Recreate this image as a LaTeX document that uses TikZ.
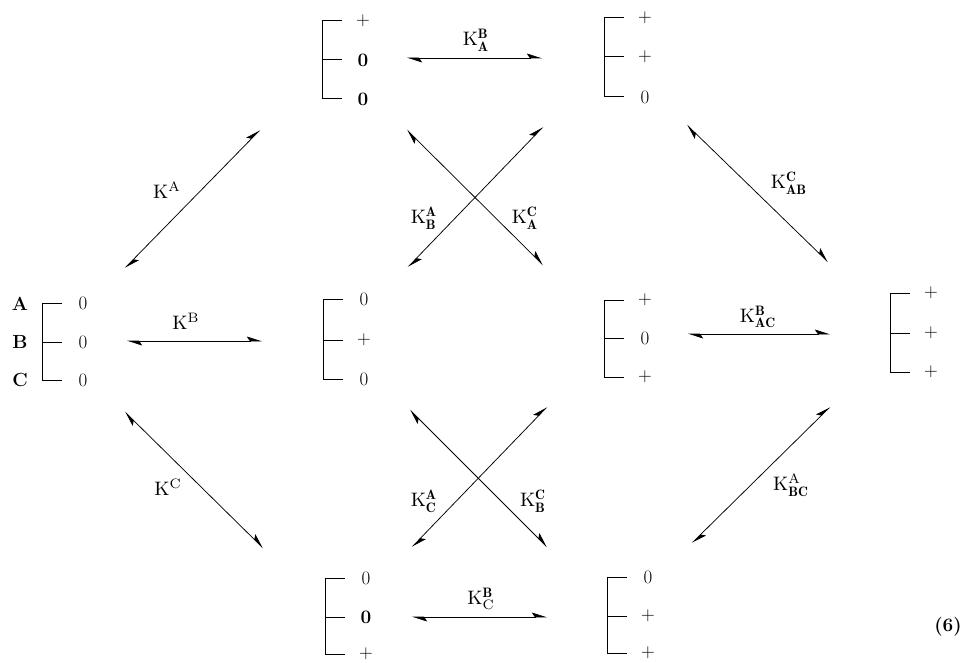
\documentclass[tikz,border=0pt]{standalone}
\usepackage{fontspec}
\usepackage{graphicx}
\usetikzlibrary{arrows.meta}
\newcommand\bracketset[8]{% name, x, ytop, ymid, ybot, v1, v2, v3
  \draw[brk] (#2+20,#3) -| (#2,#5) -- (#2+20,#5);
  \draw[brk] (#2,#4) -- (#2+20,#4);
  \node[val] (#1a) at (#2+41,#3) {#6};
  \node[val] (#1b) at (#2+41,#4) {#7};
  \node[val] (#1c) at (#2+41,#5) {#8};
}
\newcommand\klab[1]{\scalebox{1.95}{$#1$}}
\begin{document}
\begin{tikzpicture}[x=1pt,y=-1pt,
  val/.style={font=\fontsize{19}{22}\selectfont, inner sep=0pt, anchor=center},
  brk/.style={line width=1pt},
  eq/.style={line width=0.75pt, {Stealth[harpoon,length=14pt,width=9pt,inset=3pt]}-{Stealth[harpoon,length=14pt,width=9pt,inset=3pt]}},
  lab/.style={inner sep=0pt}]
\useasboundingbox (0,0) rectangle (966,663);

% left bracket with letters
\node[val] (la) at (20,304) {\textbf{A}};
\node[val] (lb) at (20,342) {\textbf{B}};
\node[val] (lc) at (20,380) {\textbf{C}};
\bracketset{s0}{42}{303}{342}{380}{0}{0}{0}
% top row
\bracketset{sa}{322}{21}{60}{99}{+}{\textbf{0}}{\textbf{0}}
\bracketset{sab}{604}{18}{57}{97}{+}{+}{0}
% middle row
\bracketset{sb}{323}{299}{340}{379}{0}{+}{0}
\bracketset{sac}{604}{300}{338}{377}{+}{0}{+}
\bracketset{sabc}{890}{293}{333}{372}{+}{+}{+}
% bottom row
\bracketset{sc}{325}{578}{617}{654}{0}{\textbf{0}}{+}
\bracketset{sbc}{607}{577}{616}{653}{0}{+}{+}

% arrow end points
\coordinate (a1) at (407,58);  \coordinate (a2) at (542,58);
\coordinate (b1) at (127,341); \coordinate (b2) at (262,341);
\coordinate (c1) at (412,617); \coordinate (c2) at (547,617);
\coordinate (d1) at (688,334); \coordinate (d2) at (830,334);
\coordinate (e1) at (125,268); \coordinate (e2) at (260,130);
\coordinate (f1) at (125,412); \coordinate (f2) at (263,548);
\coordinate (g1) at (407,130); \coordinate (g2) at (543,265);
\coordinate (h1) at (408,267); \coordinate (h2) at (543,127);
\coordinate (i1) at (410,410); \coordinate (i2) at (547,547);
\coordinate (j1) at (412,547); \coordinate (j2) at (547,407);
\coordinate (k1) at (687,125); \coordinate (k2) at (828,262);
\coordinate (m1) at (692,543); \coordinate (m2) at (830,407);

\draw[eq] (a1) -- (a2);
\draw[eq] (b1) -- (b2);
\draw[eq] (c1) -- (c2);
\draw[eq] (d1) -- (d2);
\draw[eq] (e1) -- (e2);
\draw[eq] (f1) -- (f2);
\draw[eq] (g1) -- (g2);
\draw[eq] (h1) -- (h2);
\draw[eq] (i1) -- (i2);
\draw[eq] (j1) -- (j2);
\draw[eq] (k1) -- (k2);
\draw[eq] (m1) -- (m2);

% labels
\node[lab] (la1) at (476,40) {\klab{\mathrm{K}^{\mathbf{B}}_{\mathbf{A}}}};
\node[lab] (lb1) at (186,321) {\klab{\mathrm{K}^{\mathrm{B}}}};
\node[lab] (lc1) at (481,599) {\klab{\mathrm{K}^{\mathbf{B}}_{\mathrm{C}}}};
\node[lab] (ld1) at (758,317) {\klab{\mathrm{K}^{\mathbf{B}}_{\mathbf{AC}}}};
\node[lab] (le1) at (167,190) {\klab{\mathrm{K}^{\mathrm{A}}}};
\node[lab] (lf1) at (168,487) {\klab{\mathrm{K}^{\mathrm{C}}}};
\node[lab] (lg1) at (424,218) {\klab{\mathrm{K}^{\mathbf{A}}_{\mathbf{B}}}};
\node[lab] (lh1) at (525,218) {\klab{\mathrm{K}^{\mathbf{C}}_{\mathbf{A}}}};
\node[lab] (li1) at (424,501) {\klab{\mathrm{K}^{\mathbf{A}}_{\mathbf{C}}}};
\node[lab] (lj1) at (533,501) {\klab{\mathrm{K}^{\mathbf{C}}_{\mathbf{B}}}};
\node[lab] (lk1) at (789,183) {\klab{\mathrm{K}^{\mathbf{C}}_{\mathbf{AB}}}};
\node[lab] (lm1) at (791,485) {\klab{\mathrm{K}^{\mathrm{A}}_{\mathbf{BC}}}};
\node[val] (eqno) at (948,627) {\textbf{(6)}};
\end{tikzpicture}
\end{document}
